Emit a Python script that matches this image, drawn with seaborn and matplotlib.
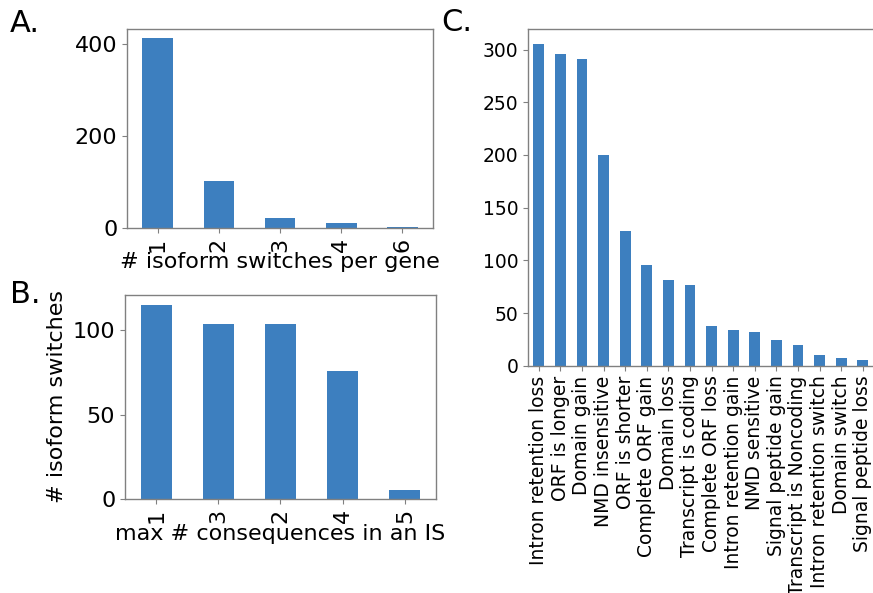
import matplotlib
matplotlib.use("Agg")
import matplotlib.pyplot as plt
import seaborn as sns
import pandas as pd

# Panel A: number of isoform switches per gene
switch_counts = ["1", "2", "3", "4", "6"]
genes_per_count = [412, 101, 22, 10, 3]

# Panel B: maximum number of consequences in an isoform switch
max_consequences = ["1", "3", "2", "4", "5"]
switches_per_max = [115, 104, 104, 76, 5]

# Panel C: consequence types
consequence_types = [
    "Intron retention loss", "ORF is longer", "Domain gain", "NMD insensitive",
    "ORF is shorter", "Complete ORF gain", "Domain loss", "Transcript is coding",
    "Complete ORF loss", "Intron retention gain", "NMD sensitive",
    "Signal peptide gain", "Transcript is Noncoding", "Intron retention switch",
    "Domain switch", "Signal peptide loss",
]
consequence_counts = [305, 296, 291, 200, 128, 96, 81, 77, 38, 34, 32, 24, 20, 10, 7, 5]

BAR = "#3d7fbf"
SPINE = "#808080"

plt.rcParams["font.family"] = ["DejaVu Sans"]

fig = plt.figure(figsize=(8.73, 5.93), dpi=100)
fig.patch.set_facecolor("white")

ax_a = fig.add_axes([0.1455, 0.6155, 0.3505, 0.3356])
ax_b = fig.add_axes([0.1432, 0.1590, 0.3562, 0.3435])
ax_c = fig.add_axes([0.6048, 0.3833, 0.3958, 0.5686])

df_a = pd.DataFrame({"n": switch_counts, "genes": genes_per_count})
df_b = pd.DataFrame({"n": max_consequences, "switches": switches_per_max})
df_c = pd.DataFrame({"type": consequence_types, "count": consequence_counts})

sns.barplot(data=df_a, x="n", y="genes", order=switch_counts, color=BAR,
            saturation=1, width=0.5, ax=ax_a)
sns.barplot(data=df_b, x="n", y="switches", order=max_consequences, color=BAR,
            saturation=1, width=0.5, ax=ax_b)
sns.barplot(data=df_c, x="type", y="count", order=consequence_types, color=BAR,
            saturation=1, width=0.5, ax=ax_c)

ax_a.set_ylim(0, 432)
ax_a.set_yticks([0, 200, 400])
ax_a.set_xlabel("# isoform switches per gene", fontsize=16)
ax_a.xaxis.set_label_coords(0.5, -0.12)
ax_a.set_ylabel("")

ax_b.set_ylim(0, 121)
ax_b.set_yticks([0, 50, 100])
ax_b.set_xlabel("max # consequences in an IS", fontsize=16)
ax_b.xaxis.set_label_coords(0.5, -0.122)
ax_b.set_ylabel("# isoform switches", fontsize=16)
ax_b.yaxis.set_label_coords(-0.186, 0.5)

ax_c.set_ylim(0, 320)
ax_c.set_yticks([0, 50, 100, 150, 200, 250, 300])
ax_c.set_xlabel("")
ax_c.set_ylabel("")

for ax, fs in ((ax_a, 16), (ax_b, 16), (ax_c, 13.5)):
    ax.set_xlim(-0.5, len(ax.get_xticks()) - 0.5)
    ax.tick_params(axis="both", labelsize=fs, color=SPINE, length=3.5)
    ax.tick_params(axis="x", labelrotation=90)
    ax.set_facecolor("white")
    for s in ax.spines.values():
        s.set_color(SPINE)
        s.set_linewidth(1.0)

fig.text(0.011, 0.961, "A.", fontsize=22, va="center", ha="left")
fig.text(0.011, 0.503, "B.", fontsize=22, va="center", ha="left")
fig.text(0.506, 0.962, "C.", fontsize=22, va="center", ha="left")

fig.savefig("out.png", dpi=100, facecolor="white")
